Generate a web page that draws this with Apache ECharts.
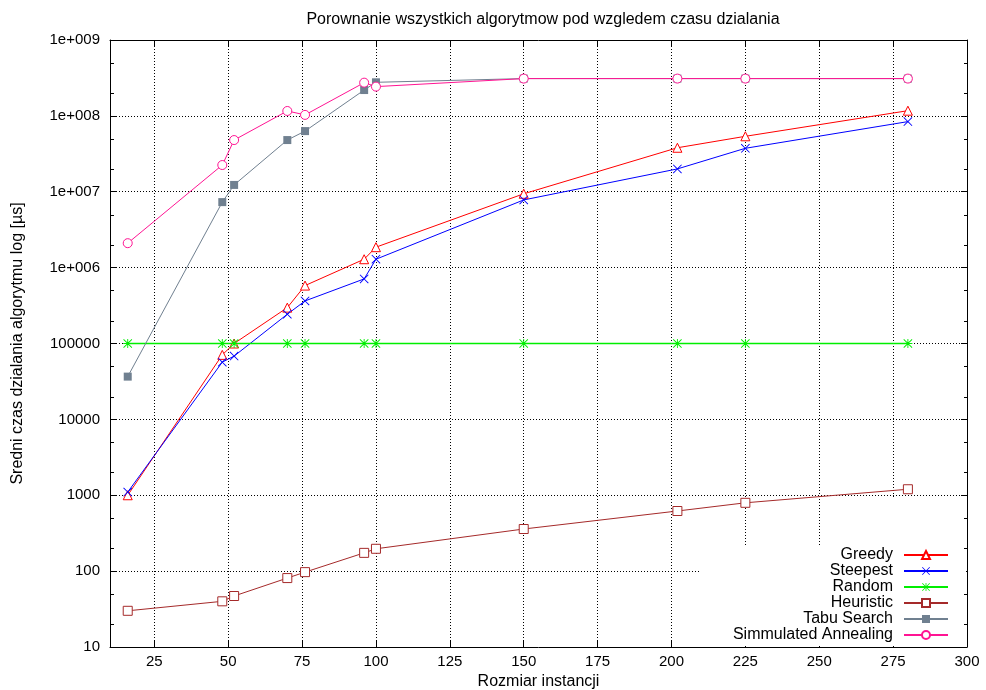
<!DOCTYPE html>
<html>
<head>
<meta charset="utf-8">
<script src="https://cdn.jsdelivr.net/npm/echarts@6/dist/echarts.min.js"></script>
<style>
  html, body { margin: 0; padding: 0; background: #fff; }
  #chart { width: 986px; height: 690px; }
</style>
</head>
<body>
<div id="chart"></div>
<script>
// Instance sizes (number of cities) on the x axis
const instanceSizes = [16, 48, 52, 70, 76, 96, 100, 150, 202, 225, 280];

// Mean running time per algorithm [µs]
const greedy = [1000, 70800, 100000, 297000, 580000, 1290000, 1860000, 9400000, 38000000, 53800000, 117000000];
const steepest = [1100, 56800, 68200, 243000, 364000, 710000, 1290000, 7800000, 20000000, 37400000, 84000000];
const random = [100000, 100000, 100000, 100000, 100000, 100000, 100000, 100000, 100000, 100000, 100000];
const heuristic = [30, 40, 47, 81, 97, 174, 197, 359, 620, 795, 1200];
const tabuSearch = [36600, 7300000, 12300000, 48000000, 63000000, 219000000, 277000000, 310000000, 310000000, 310000000, 310000000];
const simulatedAnnealing = [2100000, 22500000, 48000000, 116000000, 103000000, 274000000, 243000000, 310000000, 310000000, 310000000, 310000000];

// Axis ticks
const xTicks = [25, 50, 75, 100, 125, 150, 175, 200, 225, 250, 275, 300];
const yTickValues = [10, 100, 1000, 10000, 100000, 1000000, 10000000, 100000000, 1000000000];
const yTickLabels = ['10', '100', '1000', '10000', '100000', '1e+006', '1e+007', '1e+008', '1e+009'];
const yMinorTicks = [20, 50, 200, 500, 2000, 5000, 20000, 50000, 200000, 500000,
  2000000, 5000000, 20000000, 50000000, 200000000, 500000000];

const X_MIN = 10, X_MAX = 300;
const FONT = '"Liberation Sans", Arial, sans-serif';

// Path symbols: thin "x" cross and an asterisk
const crossPath = 'path://M7,0 L50,43 L93,0 L100,7 L57,50 L100,93 L93,100 L50,57 L7,100 L0,93 L43,50 L0,7 Z';
const starPath = 'path://M7,0 L50,43 L93,0 L100,7 L57,50 L100,93 L93,100 L50,57 L7,100 L0,93 L43,50 L0,7 Z ' +
  'M45,0 L55,0 L55,45 L100,45 L100,55 L55,55 L55,100 L45,100 L45,55 L0,55 L0,45 L45,45 Z';

function pairs(values) {
  return instanceSizes.map((x, i) => [x, values[i]]);
}

// open = outlined marker with white fill and a 1px border
function lineSeries(name, values, color, symbol, symbolSize, open, lineWidth) {
  return {
    name: name,
    type: 'line',
    data: pairs(values),
    symbol: symbol,
    symbolSize: symbolSize,
    showAllSymbol: true,
    lineStyle: { color: color, width: lineWidth || 1 },
    itemStyle: open
      ? { color: '#fff', borderColor: color, borderWidth: 1 }
      : { color: color, borderWidth: 0 },
    emphasis: { disabled: true },
    z: 5
  };
}

const chart = echarts.init(document.getElementById('chart'), null, { renderer: 'canvas' });

const dotted = { color: '#000', width: 1, type: [1, 2] };

const option = {
  animation: false,
  backgroundColor: '#fff',
  textStyle: { fontFamily: FONT, color: '#000' },
  title: {
    text: 'Porownanie wszystkich algorytmow pod wzgledem czasu dzialania',
    left: 538,
    textAlign: 'center',
    top: 7,
    textStyle: { fontFamily: FONT, fontSize: 16, fontWeight: 'normal', color: '#000' }
  },
  grid: { left: 110, right: 19, top: 40, bottom: 43, containLabel: false, outerBoundsMode: 'none' },
  legend: {
    orient: 'vertical',
    right: 32,
    top: 542,
    align: 'right',
    itemWidth: 44,
    itemHeight: 10,
    itemGap: 0,
    selectedMode: false,
    z: 8,
    textStyle: { fontFamily: FONT, fontSize: 16, color: '#000', lineHeight: 16, padding: [0, 6, 0, 0] },
    data: ['Greedy', 'Steepest', 'Random', 'Heuristic', 'Tabu Search', 'Simmulated Annealing']
  },
  graphic: [
    // opaque key background
    { type: 'rect', z: 1, shape: { x: 700, y: 545, width: 266, height: 101 }, style: { fill: '#fff' } },
    { type: 'rect', z: 1, shape: { x: 850, y: 497, width: 116, height: 48 }, style: { fill: '#fff' } }
  ],
  xAxis: [
    {
      type: 'value',
      position: 'bottom',
      z: 0,
      min: X_MIN,
      max: X_MAX,
      name: 'Rozmiar instancji',
      nameLocation: 'middle',
      nameGap: 24,
      nameTextStyle: { fontFamily: FONT, fontSize: 16, color: '#000' },
      axisLine: { show: true, lineStyle: { color: '#000', width: 1 } },
      axisTick: { show: true, inside: true, length: 7, customValues: xTicks, lineStyle: { color: '#000' } },
      axisLabel: { show: true, customValues: xTicks, margin: 7, fontFamily: FONT, fontSize: 15, color: '#000' },
      splitLine: { show: true, lineStyle: dotted }
    },
    {
      type: 'value',
      position: 'top',
      z: 0,
      min: X_MIN,
      max: X_MAX,
      axisLine: { show: true, lineStyle: { color: '#000', width: 1 } },
      axisTick: { show: true, inside: true, length: 6, customValues: xTicks, lineStyle: { color: '#000' } },
      axisLabel: { show: false },
      splitLine: { show: false }
    }
  ],
  yAxis: [
    {
      type: 'log',
      logBase: 10,
      position: 'left',
      z: 0,
      min: 10,
      max: 1000000000,
      splitNumber: 8,
      name: 'Sredni czas dzialania algorytmu log [µs]',
      nameLocation: 'middle',
      nameGap: 84,
      nameTextStyle: { fontFamily: FONT, fontSize: 16, color: '#000' },
      axisLine: { show: true, lineStyle: { color: '#000', width: 1 } },
      axisTick: { show: true, inside: true, length: 7, lineStyle: { color: '#000' } },
      axisLabel: {
        show: true,
        margin: 10,
        fontFamily: FONT,
        fontSize: 15,
        color: '#000',
        formatter: function (v) {
          const i = yTickValues.indexOf(Math.pow(10, Math.round(Math.log10(v))));
          return i >= 0 ? yTickLabels[i] : '';
        }
      },
      splitLine: { show: true, lineStyle: dotted }
    },
    {
      type: 'log',
      logBase: 10,
      position: 'right',
      z: 0,
      min: 10,
      max: 1000000000,
      splitNumber: 8,
      axisLine: { show: true, lineStyle: { color: '#000', width: 1 } },
      axisTick: { show: true, inside: true, length: 6, lineStyle: { color: '#000' } },
      axisLabel: { show: false },
      splitLine: { show: false }
    }
  ],
  series: [
    lineSeries('Greedy', greedy, '#ff0000', 'triangle', 9, true),
    lineSeries('Steepest', steepest, '#0000ff', crossPath, 9, false),
    lineSeries('Random', random, '#00ee00', starPath, 9, false, 1.6),
    lineSeries('Heuristic', heuristic, '#a52a2a', 'rect', 9, true),
    lineSeries('Tabu Search', tabuSearch, '#708090', 'rect', 8, false),
    lineSeries('Simmulated Annealing', simulatedAnnealing, '#ff1493', 'circle', 9, true),
    {
      // minor ticks of the logarithmic axis, on both sides of the frame
      name: 'minorTicks',
      type: 'custom',
      silent: true,
      clip: false,
      z: 6,
      data: yMinorTicks.map(v => [X_MIN, v]),
      renderItem: function (params, api) {
        const v = api.value(1);
        const l = api.coord([X_MIN, v]);
        const r = api.coord([X_MAX, v]);
        const y = Math.round(l[1]) + 0.5;
        return {
          type: 'group',
          children: [
            { type: 'line', shape: { x1: l[0], y1: y, x2: l[0] + 4, y2: y }, style: { stroke: '#000', lineWidth: 1 } },
            { type: 'line', shape: { x1: r[0] - 3, y1: y, x2: r[0], y2: y }, style: { stroke: '#000', lineWidth: 1 } }
          ]
        };
      }
    }
  ]
};

chart.setOption(option);
</script>
</body>
</html>
